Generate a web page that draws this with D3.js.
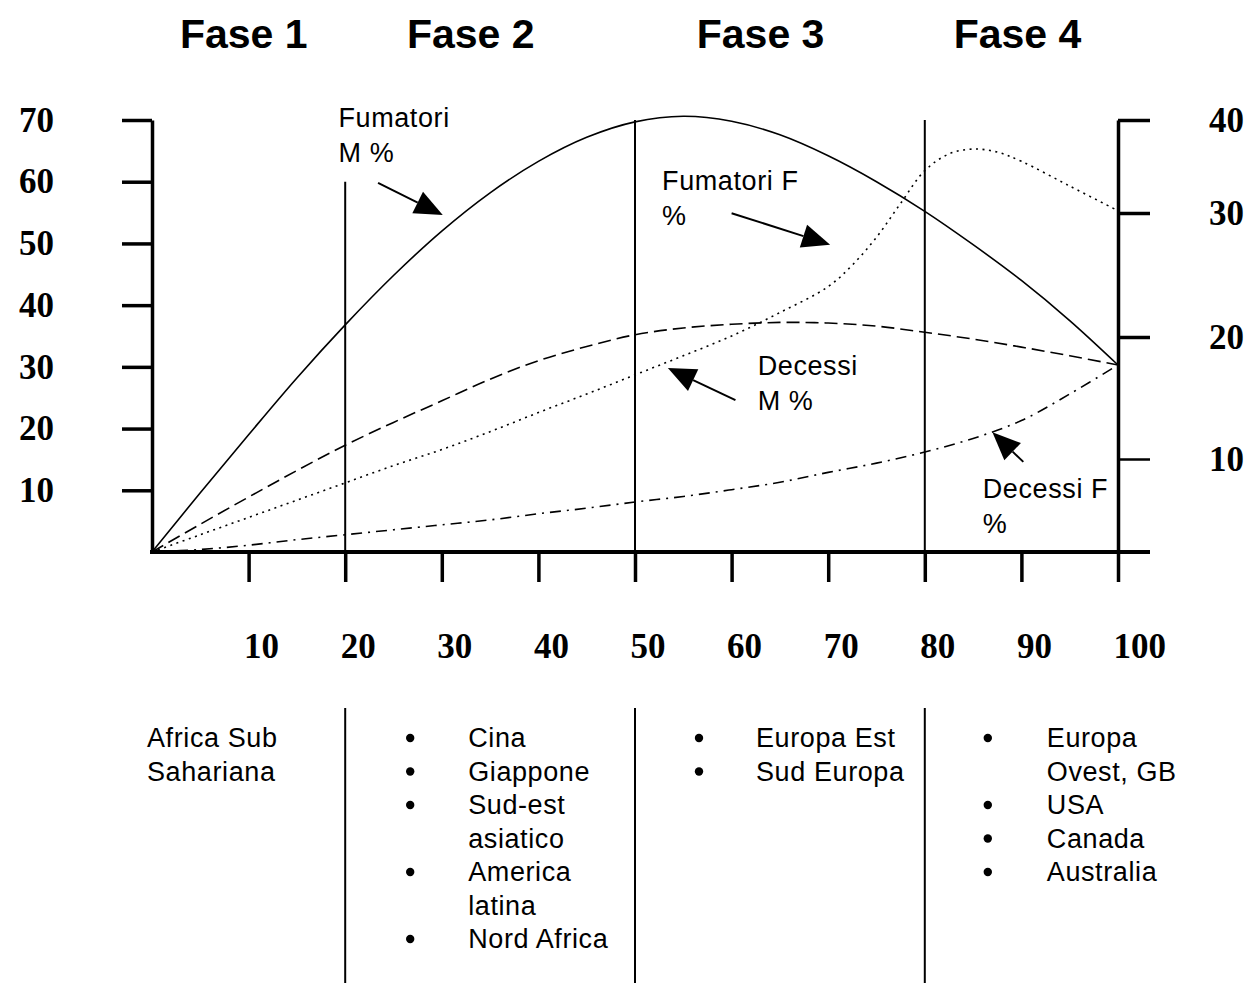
<!DOCTYPE html>
<html lang="it">
<head>
<meta charset="UTF-8">
<script src="https://cdn.jsdelivr.net/npm/d3@7"></script>
<title>Fasi dell'epidemia del tabacco</title>
<style>
  body { margin: 0; background: #fff; }
  svg { display: block; background: #fff; }
  text { font-family: "Liberation Sans", Arial, sans-serif; fill: #000; }
  .num text, text.num { font-family: "Liberation Serif", "Times New Roman", serif; font-weight: bold; font-size: 35px; }
  .phase { font-weight: bold; font-size: 41px; }
  .note, .region { font-size: 27px; letter-spacing: 0.6px; }
</style>
</head>
<body>
<div id="chart"></div>
<script>
// anni dall'inizio dell'epidemia
var years = [0, 5, 10, 15, 20, 25, 30, 35, 40, 45, 50, 55, 60, 65, 70, 75, 80, 85, 90, 95, 100];
var fumatoriM = [0, 9.6, 19.0, 28.2, 36.8, 44.8, 52.0, 58.2, 63.3, 67.2, 69.7, 70.6, 69.8, 67.6, 64.2, 60.0, 55.2, 49.8, 44.0, 37.5, 30.3];
var decessiM  = [0, 4.5, 8.9, 13.2, 17.3, 21.0, 24.5, 28.0, 31.0, 33.3, 35.2, 36.3, 36.9, 37.2, 37.1, 36.6, 35.6, 34.5, 33.2, 31.8, 30.3];
var decessiF  = [0, 0.4, 1.1, 2.0, 2.8, 3.6, 4.4, 5.2, 6.2, 7.1, 8.1, 9.0, 10.1, 11.3, 12.9, 14.4, 16.2, 18.4, 21.3, 25.6, 30.3];
var yearsF    = [0, 5, 10, 15, 20, 25, 30, 35, 40, 45, 50, 55, 60, 65, 70, 72.5, 75, 77.5, 80, 82.5, 85, 87.5, 90, 95, 100];
var fumatoriF = [0, 2.8, 5.6, 8.4, 11.2, 14.0, 16.6, 19.5, 22.6, 25.6, 28.7, 31.8, 35.0, 38.8, 43.0, 46.5, 51.0, 56.5, 61.8, 64.5, 65.3, 64.8, 63.3, 59.3, 55.3];

var xTicks = [10, 20, 30, 40, 50, 60, 70, 80, 90, 100];
var leftTicks = [10, 20, 30, 40, 50, 60, 70];
var rightTicks = [10, 20, 30, 40];
// la scala destra nell'originale non e' uniforme
var rightDomain = [0, 10, 20, 30, 40];

var phases = ["Fase 1", "Fase 2", "Fase 3", "Fase 4"];
var phaseCentre = [9.5, 33, 63, 89.6];
var phaseLines = [20, 50, 80];
var phaseLineTop = [60, 70, 70];

var regions = [
  { bullets: false, items: [["Africa Sub", "Sahariana"]] },
  { bullets: true, items: [["Cina"], ["Giappone"], ["Sud-est", "asiatico"], ["America", "latina"], ["Nord Africa"]] },
  { bullets: true, items: [["Europa Est"], ["Sud Europa"]] },
  { bullets: true, items: [["Europa", "Ovest, GB"], ["USA"], ["Canada"], ["Australia"]] }
];

// etichette con freccia (coordinate in unita' dei dati, scala sinistra)
var notes = [
  { lines: ["Fumatori", "M %"], at: [19.3, 68.9], from: [23.4, 59.8], to: [30.1, 54.6] },
  { lines: ["Fumatori F", "%"], at: [52.8, 58.7], from: [60.0, 54.9], to: [70.2, 49.8] },
  { lines: ["Decessi", "M %"], at: [62.7, 28.7], from: [60.4, 24.6], to: [53.4, 29.8] },
  { lines: ["Decessi F", "%"], at: [86.0, 8.75], from: [90.2, 14.6], to: [87.0, 19.4] }
];

var W = 1250, H = 983;
var svg = d3.select("#chart").append("svg")
  .attr("width", W)
  .attr("height", H);

var x = d3.scaleLinear().domain([0, 100]).range([152, 1118]);
var yL = d3.scaleLinear().domain([0, 70]).range([552, 120]);
var yR = d3.scaleLinear().domain(rightDomain).range([552, 459, 337, 213, 120]);

// titoli delle fasi
svg.append("g").selectAll("text")
  .data(phases)
  .enter().append("text")
  .attr("class", "phase")
  .attr("x", function(d, i) { return x(phaseCentre[i]); })
  .attr("y", 48)
  .attr("text-anchor", "middle")
  .text(function(d) { return d; });

// linee verticali delle fasi
svg.append("g").selectAll("line")
  .data(phaseLines)
  .enter().append("line")
  .attr("x1", function(d) { return x(d); })
  .attr("x2", function(d) { return x(d); })
  .attr("y1", function(d, i) { return yL(phaseLineTop[i]); })
  .attr("y2", yL(0))
  .attr("stroke", "#000")
  .attr("stroke-width", 2);

svg.append("g").selectAll("line")
  .data(phaseLines)
  .enter().append("line")
  .attr("x1", function(d) { return x(d); })
  .attr("x2", function(d) { return x(d); })
  .attr("y1", 708)
  .attr("y2", H)
  .attr("stroke", "#000")
  .attr("stroke-width", 2);

// assi
var leftAxis = svg.append("g")
  .attr("class", "num")
  .attr("transform", "translate(" + x(0) + ",0)")
  .call(d3.axisLeft(yL).tickValues(leftTicks).tickSize(30).tickSizeOuter(0).tickPadding(68));

var rightAxis = svg.append("g")
  .attr("class", "num")
  .attr("transform", "translate(" + x(100) + ",0)")
  .call(d3.axisRight(yR).tickValues(rightTicks).tickSize(32).tickSizeOuter(0).tickPadding(59));

var bottomAxis = svg.append("g")
  .attr("class", "num")
  .attr("transform", "translate(0," + yL(0) + ")")
  .call(d3.axisBottom(x).tickValues(xTicks).tickSize(30).tickSizeOuter(0).tickPadding(51));

bottomAxis.select(".domain").remove();
bottomAxis.selectAll(".tick text").attr("text-anchor", "start").attr("dx", -5);

svg.append("line")
  .attr("x1", x(0) - 2)
  .attr("x2", x(100) + 32)
  .attr("y1", yL(0))
  .attr("y2", yL(0))
  .attr("stroke", "#000")
  .attr("stroke-width", 4);

svg.selectAll(".num .domain").attr("stroke-width", 3.5);
svg.selectAll(".num .tick line").attr("stroke-width", 3.5);
rightAxis.selectAll(".tick line").filter(function(d) { return d === 10; }).attr("stroke-width", 2.5);
svg.selectAll(".num text").attr("font-size", 35).attr("font-family", "'Liberation Serif', 'Times New Roman', serif").attr("font-weight", "bold").attr("fill", "#000");

// curve
var line = d3.line()
  .x(function(d) { return x(d[0]); })
  .y(function(d) { return yL(d[1]); })
  .curve(d3.curveCatmullRom.alpha(0.5));

var series = [
  { xs: years, ys: fumatoriM, dash: null },
  { xs: years, ys: decessiM, dash: "13,6" },
  { xs: yearsF, ys: fumatoriF, dash: "2,4.5" },
  { xs: years, ys: decessiF, dash: "11,6,2,6" }
];

svg.append("g").selectAll("path")
  .data(series)
  .enter().append("path")
  .attr("d", function(s) { return line(s.xs.map(function(v, i) { return [v, s.ys[i]]; })); })
  .attr("fill", "none")
  .attr("stroke", "#000")
  .attr("stroke-width", 1.6)
  .attr("stroke-dasharray", function(s) { return s.dash; });

// note e frecce
var noteG = svg.append("g");
notes.forEach(function(n) {
  var t = noteG.append("text")
    .attr("class", "note")
    .attr("x", x(n.at[0]))
    .attr("y", yL(n.at[1]));
  n.lines.forEach(function(l, i) {
    t.append("tspan")
      .attr("x", x(n.at[0]))
      .attr("dy", i === 0 ? 0 : 35)
      .text(l);
  });

  var x1 = x(n.from[0]), y1 = yL(n.from[1]);
  var x2 = x(n.to[0]), y2 = yL(n.to[1]);
  var a = Math.atan2(y2 - y1, x2 - x1);
  var len = 28, half = 12;
  var bx = x2 - len * Math.cos(a), by = y2 - len * Math.sin(a);
  noteG.append("line")
    .attr("x1", x1).attr("y1", y1)
    .attr("x2", bx).attr("y2", by)
    .attr("stroke", "#000")
    .attr("stroke-width", 2);
  noteG.append("polygon")
    .attr("points", [
      [x2, y2],
      [bx + half * Math.sin(a), by - half * Math.cos(a)],
      [bx - half * Math.sin(a), by + half * Math.cos(a)]
    ].map(function(p) { return p.join(","); }).join(" "))
    .attr("fill", "#000");
});

// elenchi delle regioni
var colText = [x(0) - 5, x(20) + 123, x(50) + 121, x(80) + 122];
var colBullet = [null, x(20) + 65, x(50) + 64, x(80) + 63];
var lineH = 33.5, firstBase = 747;

regions.forEach(function(r, c) {
  var row = 0;
  r.items.forEach(function(item) {
    if (r.bullets) {
      svg.append("circle")
        .attr("cx", colBullet[c])
        .attr("cy", firstBase + row * lineH - 9)
        .attr("r", 4.2)
        .attr("fill", "#000");
    }
    item.forEach(function(l) {
      svg.append("text")
        .attr("class", "region")
        .attr("x", colText[c])
        .attr("y", firstBase + row * lineH)
        .text(l);
      row++;
    });
  });
});
</script>
</body>
</html>
